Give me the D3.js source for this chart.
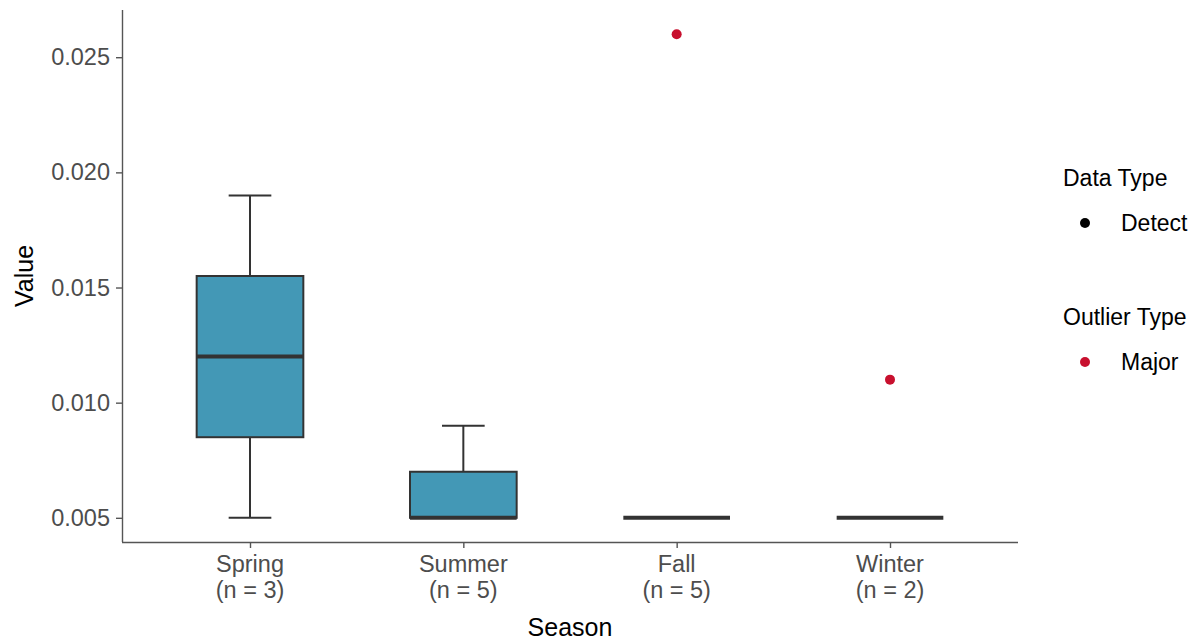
<!DOCTYPE html>
<html>
<head>
<meta charset="utf-8">
<script src="https://cdn.jsdelivr.net/npm/d3@7"></script>
<style>
  html, body { margin: 0; padding: 0; background: #fff; }
  svg { display: block; }
</style>
</head>
<body>
<svg id="chart" width="1194" height="640" font-family="Liberation Sans, Arial, Helvetica, sans-serif"></svg>
<script>
// ---- data ----
const seasons = ["Spring", "Summer", "Fall", "Winter"];
const counts = [3, 5, 5, 2];
const whiskerLow = [0.005, 0.005, 0.005, 0.005];
const q1 = [0.0085, 0.005, 0.005, 0.005];
const medians = [0.012, 0.005, 0.005, 0.005];
const q3 = [0.0155, 0.007, 0.005, 0.005];
const whiskerHigh = [0.019, 0.009, 0.005, 0.005];
const outlierSeason = ["Fall", "Winter"];
const outlierValue = [0.026, 0.011];
const yTicks = [0.005, 0.010, 0.015, 0.020, 0.025];

const FONT = "Liberation Sans, Arial, Helvetica, sans-serif";
const boxFill = "#4398b6";
const boxStroke = "#333333";
const outlierColor = "#c8102e";

const svg = d3.select("#chart");
const plot = { left: 122, right: 1018, top: 10, bottom: 542 };

const x = d3.scalePoint().domain(seasons).range([plot.left, plot.right]).padding(0.6);
const step = x.step();
const yMin = 0.005, yMax = 0.026, pad = (yMax - yMin) * 0.05;
const y = d3.scaleLinear().domain([yMin - pad, yMax + pad]).range([plot.bottom, plot.top]);

const axisColor = "#555555";
const tickText = "#4d4d4d";
const tickSize = 23.5;

// Boxes
const boxes = seasons.map((s, i) => ({ s, lo: whiskerLow[i], q1: q1[i], med: medians[i], q3: q3[i], hi: whiskerHigh[i] }));
const g = svg.append("g");
const bw = step * 0.5, cw = step * 0.2;
boxes.forEach(b => {
  const cx = x(b.s);
  if (b.hi > b.q3) g.append("line").attr("x1", cx).attr("x2", cx).attr("y1", y(b.q3)).attr("y2", y(b.hi)).attr("stroke", boxStroke).attr("stroke-width", 2);
  if (b.lo < b.q1) g.append("line").attr("x1", cx).attr("x2", cx).attr("y1", y(b.q1)).attr("y2", y(b.lo)).attr("stroke", boxStroke).attr("stroke-width", 2);
  g.append("line").attr("x1", cx - cw / 2).attr("x2", cx + cw / 2).attr("y1", y(b.hi)).attr("y2", y(b.hi)).attr("stroke", boxStroke).attr("stroke-width", 2);
  g.append("line").attr("x1", cx - cw / 2).attr("x2", cx + cw / 2).attr("y1", y(b.lo)).attr("y2", y(b.lo)).attr("stroke", boxStroke).attr("stroke-width", 2);
  g.append("rect").attr("x", cx - bw / 2).attr("width", bw)
    .attr("y", y(b.q3)).attr("height", Math.max(0, y(b.q1) - y(b.q3)))
    .attr("fill", boxFill).attr("stroke", boxStroke).attr("stroke-width", 2);
  g.append("line").attr("x1", cx - bw / 2).attr("x2", cx + bw / 2).attr("y1", y(b.med)).attr("y2", y(b.med)).attr("stroke", boxStroke).attr("stroke-width", 4);
});

// Outliers
g.selectAll("circle.out").data(outlierSeason.map((s, i) => ({ s, v: outlierValue[i] })))
  .enter().append("circle").attr("class", "out")
  .attr("cx", d => x(d.s)).attr("cy", d => y(d.v)).attr("r", 5).attr("fill", outlierColor);

// Axes
const yAxis = svg.append("g").attr("transform", `translate(${plot.left},0)`)
  .call(d3.axisLeft(y).tickValues(yTicks).tickFormat(d3.format(".3f")).tickSize(6).tickPadding(6));
const xAxis = svg.append("g").attr("transform", `translate(0,${plot.bottom})`)
  .call(d3.axisBottom(x).tickSize(6).tickFormat(""));
[yAxis, xAxis].forEach(a => {
  a.attr("font-family", FONT).attr("font-size", tickSize);
  a.select(".domain").attr("stroke", axisColor).attr("stroke-width", 1.4);
  a.selectAll(".tick line").attr("stroke", axisColor).attr("stroke-width", 1.4);
});
yAxis.select(".domain").attr("d", `M0.5,${plot.top}V${plot.bottom}`);
xAxis.select(".domain").attr("d", `M${plot.left},0.5H${plot.right}`);
yAxis.selectAll(".tick text").attr("fill", tickText);

// X tick labels (two lines)
seasons.forEach((s, i) => {
  const t = svg.append("text").attr("x", x(s)).attr("text-anchor", "middle").attr("fill", tickText)
    .attr("font-size", tickSize).attr("font-family", FONT);
  t.append("tspan").attr("x", x(s)).attr("y", 572).text(s);
  t.append("tspan").attr("x", x(s)).attr("y", 598).text(`(n = ${counts[i]})`);
});

// Axis titles
svg.append("text").attr("x", (plot.left + plot.right) / 2).attr("y", 635.5).attr("text-anchor", "middle")
  .attr("font-size", 25).attr("font-family", FONT).attr("fill", "#000").text("Season");
svg.append("text").attr("transform", `translate(32.5,${(plot.top + plot.bottom) / 2}) rotate(-90)`)
  .attr("text-anchor", "middle").attr("font-size", 25).attr("font-family", FONT).attr("fill", "#000").text("Value");

// Legends
const legends = [
  { title: "Data Type", label: "Detect", color: "#000000", ty: 186, cy: 223 },
  { title: "Outlier Type", label: "Major", color: outlierColor, ty: 325, cy: 362 }
];
legends.forEach(l => {
  svg.append("text").attr("x", 1063).attr("y", l.ty).attr("font-size", 23).attr("font-family", FONT).attr("fill", "#000").text(l.title);
  svg.append("circle").attr("cx", 1085).attr("cy", l.cy).attr("r", 5).attr("fill", l.color);
  svg.append("text").attr("x", 1121).attr("y", l.cy + 8).attr("font-size", 23).attr("font-family", FONT).attr("fill", "#000").text(l.label);
});
</script>
</body>
</html>
